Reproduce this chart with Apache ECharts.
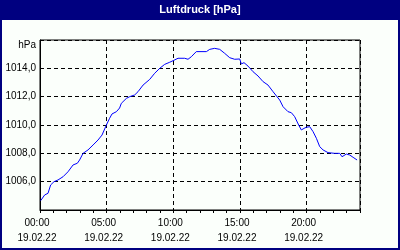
<!DOCTYPE html>
<html><head><meta charset="utf-8">
<script src="https://cdn.jsdelivr.net/npm/echarts@6/dist/echarts.min.js"></script>
<style>html,body{margin:0;padding:0;background:#fbfffb}#c{width:400px;height:250px}</style>
</head><body><div id="c"></div>
<script>
const titleText = 'Luftdruck [hPa]';
const unitLabel = 'hPa';
const dateLabel = '19.02.22';
const hours = [0.05,0.35,0.6,0.8,1.05,1.35,1.73,2.1,2.48,2.8,2.97,3.23,3.6,3.98,4.35,4.65,4.98,5.22,5.4,5.73,5.97,6.1,6.48,6.73,7.1,7.35,7.73,8.23,8.6,8.98,9.35,9.73,9.98,10.35,10.85,11.1,11.35,11.72,12.48,12.73,13.1,13.48,13.85,14.23,14.6,14.98,15.1,15.3,15.6,15.98,16.35,16.73,17.1,17.48,17.98,18.23,18.6,18.85,19.1,19.4,19.6,19.8,19.97,20.23,20.48,20.73,20.98,21.23,21.6,22.1,22.48,22.65,22.98,23.23,23.48,23.78];
const pressure = [1004.66,1005.06,1005.18,1005.77,1006.0,1006.12,1006.35,1006.7,1007.18,1007.3,1007.53,1008.0,1008.24,1008.59,1008.94,1009.29,1010.0,1010.47,1010.78,1010.94,1011.2,1011.53,1011.88,1012.0,1012.12,1012.35,1012.82,1013.22,1013.65,1014.0,1014.28,1014.43,1014.54,1014.71,1014.71,1014.64,1014.82,1015.18,1015.18,1015.34,1015.41,1015.34,1015.06,1014.75,1014.64,1014.66,1014.31,1014.4,1014.16,1013.76,1013.46,1013.06,1012.82,1012.35,1011.76,1011.29,1010.94,1010.87,1010.59,1010.0,1009.65,1009.76,1009.84,1009.88,1009.53,1009.06,1008.47,1008.24,1008.05,1008.0,1008.0,1007.76,1007.95,1007.88,1007.72,1007.53];
const yTicks = [1006, 1008, 1010, 1012, 1014];

const chart = echarts.init(document.getElementById('c'), null, {renderer: 'canvas'});
const font = 'Liberation Sans';
chart.setOption({
  backgroundColor: '#fbfffb',
  animation: false,
  grid: {left: 40, right: 40, top: 40, bottom: 40, show: true, borderColor: '#000', borderWidth: 1, backgroundColor: 'transparent'},
  xAxis: [{
    type: 'value', min: 0, max: 24, interval: 1,
    axisLine: {show: true, lineStyle: {color: '#000', width: 1}},
    axisTick: {show: true, length: 3, lineStyle: {color: '#000'}},
    splitLine: {show: false},
    axisLabel: {
      color: '#000', fontFamily: font, fontSize: 10, margin: 6, lineHeight: 15,
      padding: [0, 6, 0, 0],
      formatter: v => (v % 5 === 0 && v < 24) ? (String(v).padStart(2, '0') + ':00\n' + dateLabel) : ''
    }
  }, {
    type: 'value', min: 0, max: 24, interval: 5, gridIndex: 0,
    axisLine: {show: false}, axisTick: {show: false}, axisLabel: {show: false},
    splitLine: {show: true, lineStyle: {color: '#000', type: [4, 3], width: 1}}
  }],
  yAxis: {
    type: 'value', min: 1004, max: 1016, interval: 2,
    axisLine: {show: true, lineStyle: {color: '#000'}},
    axisTick: {show: false},
    splitLine: {show: true, lineStyle: {color: '#000', type: [4, 3], width: 1}},
    axisLabel: {
      color: '#000', fontFamily: font, fontSize: 10, margin: 4, padding: [2, 0, 0, 0],
      formatter: v => yTicks.includes(v) ? v.toFixed(1).replace('.', ',') : ''
    }
  },
  series: [{
    type: 'line', xAxisIndex: 0,
    data: hours.map((h, i) => [h, pressure[i]]),
    showSymbol: false, symbol: 'none',
    lineStyle: {color: '#0000ff', width: 1},
    z: 5
  }],
  graphic: [
    {type: 'rect', shape: {x: 0, y: 0, width: 400, height: 20}, style: {fill: '#000080'}, z: 10},
    {type: 'text', x: 200, y: 10, style: {text: titleText, fill: '#fff', font: 'bold 11px Liberation Sans', textAlign: 'center', textVerticalAlign: 'middle'}, z: 11},
    {type: 'rect', shape: {x: 1, y: 1, width: 398, height: 248}, style: {fill: 'none', stroke: '#000080', lineWidth: 2}, z: 10},
    {type: 'text', x: 36, y: 45, style: {text: unitLabel, fill: '#000', font: '10px Liberation Sans', textAlign: 'right', textVerticalAlign: 'middle'}, z: 11}
  ]
});
</script></body></html>
